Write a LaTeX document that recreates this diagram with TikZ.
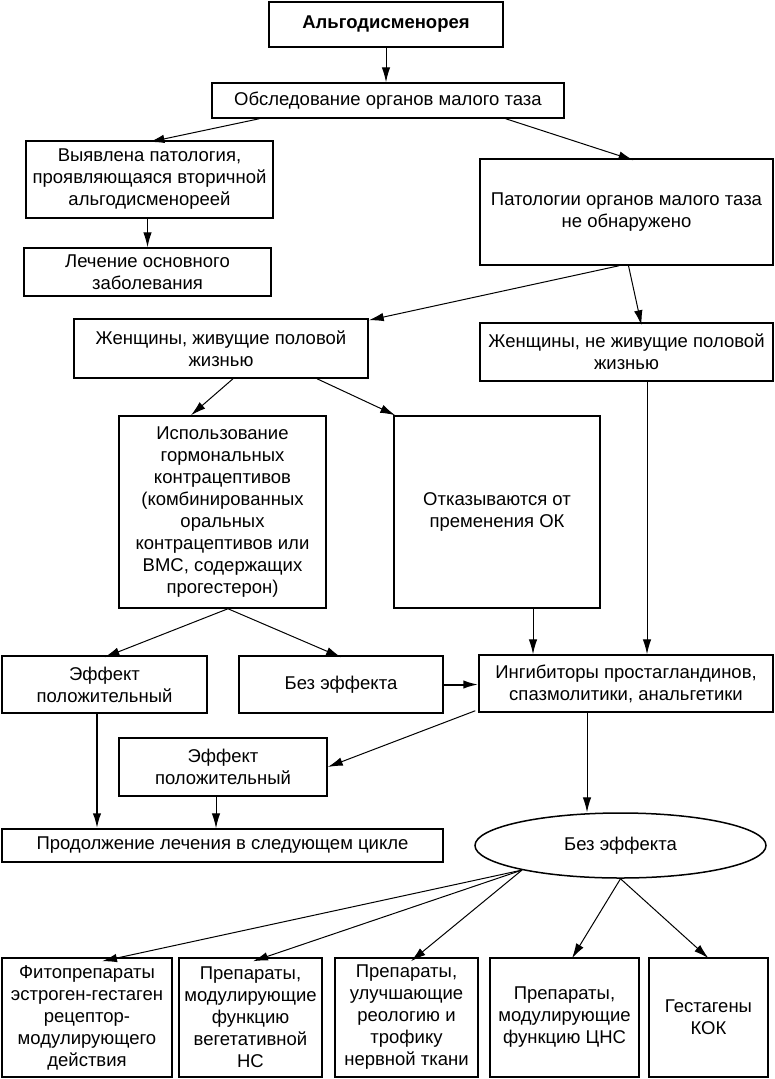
\documentclass[tikz,border=0pt]{standalone}
\usepackage{fontspec}
\setmainfont{Liberation Sans}
\usetikzlibrary{arrows.meta,shapes.geometric}

\begin{document}
\begin{tikzpicture}[x=1pt,y=-1pt,
  font=\fontsize{18.5}{22}\selectfont,
  box/.style={draw, line width=1.5pt, align=center, inner sep=0pt},
  ellbox/.style={box, ellipse},
  arr/.style={-{Latex[length=15pt,width=8.5pt]}, line width=1pt},
  fatarr/.style={arr, line width=2pt}]
\useasboundingbox (0,0) rectangle (774,1079);
% ---- top ----
\node[box, line width=2.8pt, font=\fontsize{18.5}{22}\selectfont\bfseries,
  minimum width=234pt, minimum height=45pt] (algo) at (386, 24.5) {Альгодисменорея};
\node[box, minimum width=352pt, minimum height=35pt] (obsl) at (388, 100.5)
  {Обследование органов малого таза};
\node[box, line width=2pt, minimum width=247pt, minimum height=77pt] (vyyav) at (149.5, 179.5)
  {Выявлена патология,\\проявляющаяся вторичной\\альгодисменореей};
\node[box, minimum width=247pt, minimum height=48pt] (lech) at (147.5, 272)
  {Лечение основного\\заболевания};
\node[box, minimum width=293pt, minimum height=106pt] (patol) at (626.5, 212)
  {Патологии органов малого таза\\не обнаружено};
% ---- women ----
\node[box, minimum width=294pt, minimum height=59pt] (zhiv) at (221, 348.5)
  {Женщины, живущие половой\\жизнью};
\node[box, minimum width=293pt, minimum height=58pt] (nezhiv) at (626.5, 352)
  {Женщины, не живущие половой\\жизнью};
\node[box, minimum width=207pt, minimum height=192pt] (ispol) at (222.5, 512)
  {Использование\\гормональных\\контрацептивов\\(комбинированных\\оральных\\контрацептивов или\\ВМС, содержащих\\прогестерон)};
\node[box, minimum width=206pt, minimum height=192pt] (otkaz) at (497, 512)
  {Отказываются от\\пременения ОК};
% ---- effect ----
\node[box, minimum width=205pt, minimum height=57pt] (eff1) at (104.5, 684.5)
  {Эффект\\положительный};
\node[box, minimum width=204pt, minimum height=57pt] (bez1) at (341, 684.5) {Без эффекта};
\node[box, minimum width=294pt, minimum height=57pt] (ingib) at (626, 683.5)
  {Ингибиторы простагландинов,\\спазмолитики, анальгетики};
\node[box, minimum width=208pt, minimum height=58pt] (eff2) at (223, 767)
  {Эффект\\положительный};
\node[box, minimum width=441pt, minimum height=33pt] (prod) at (222.5, 845.5)
  {Продолжение лечения в следующем цикле};
\node[ellbox, minimum width=291pt, minimum height=65pt] (bez2) at (620.5, 845.5) {Без эффекта};
% ---- drugs ----
\node[box, minimum width=170pt, minimum height=119pt] (fito) at (87, 1017.5)
  {Фитопрепараты\\эстроген-гестаген\\рецептор-\\модулирующего\\действия};
\node[box, minimum width=143pt, minimum height=119pt] (veget) at (250.5, 1017.5)
  {Препараты,\\модулирующие\\функцию\\вегетативной\\НС};
\node[box, minimum width=143pt, minimum height=119pt] (reol) at (406.5, 1017.5)
  {Препараты,\\улучшающие\\реологию и\\трофику\\нервной ткани};
\node[box, minimum width=149pt, minimum height=119pt] (cns) at (564.5, 1017.5)
  {Препараты,\\модулирующие\\функцию ЦНС};
\node[box, minimum width=119pt, minimum height=119pt] (gest) at (708.5, 1017.5)
  {Гестагены\\КОК};
% ---- arrows ----
\draw[arr] (algo.south) -- (algo.south |- obsl.north);
\draw[arr] ([xshift=48pt]obsl.south west) -- ([yshift=-2pt]vyyav.north);
\draw[arr] ([xshift=-59pt]obsl.south east) -- ([xshift=7pt,yshift=-2pt]patol.north);
\draw[arr] (vyyav.south -| lech.north) -- (lech.north);
\draw[arr] ([xshift=-7.5pt]patol.south) -- ([yshift=-2pt]zhiv.north east);
\draw[arr] ([xshift=2pt]patol.south) -- ([xshift=15pt,yshift=-3pt]nezhiv.north);
\draw[arr] ([xshift=12pt]zhiv.south) -- ([xshift=-31.5pt]ispol.north);
\draw[arr] ([xshift=96pt]zhiv.south) -- ([xshift=2pt]otkaz.north west);
\draw[arr] ([xshift=36pt]otkaz.south) -- ([xshift=36pt]otkaz.south |- ingib.north);
\draw[arr] ([xshift=20.5pt]nezhiv.south) -- ([xshift=20.5pt]nezhiv.south |- ingib.north);
\draw[arr] ([xshift=5.5pt]ispol.south) -- ([yshift=-2pt]eff1.north);
\draw[arr] ([xshift=5.5pt]ispol.south) -- ([yshift=-2pt]bez1.north);
\draw[fatarr] (bez1.east) -- (bez1.east -| ingib.west);
\draw[arr] ([xshift=-3pt,yshift=2pt]ingib.south west) -- (eff2.east);
\draw[fatarr] ([xshift=-7.5pt]eff1.south) -- ([xshift=-7.5pt]eff1.south |- prod.north);
\draw[arr] ([xshift=-7pt]eff2.south) -- ([xshift=-7pt]eff2.south |- prod.north);
\draw[arr] ([xshift=-39pt]ingib.south) -- ([xshift=-39pt]ingib.south |- bez2.north);
\draw[arr] (bez2.194) -- ([xshift=15pt,yshift=-4pt]fito.north);
\draw[arr] (bez2.194) -- ([xshift=2.5pt,yshift=-4pt]veget.north);
\draw[arr] (bez2.194) -- ([xshift=4.5pt,yshift=-4pt]reol.north);
\draw[arr] (bez2.south) -- ([xshift=7.5pt,yshift=-1pt]cns.north);
\draw[arr] (bez2.south) -- ([yshift=-1pt]gest.north);
\end{tikzpicture}
\end{document}
